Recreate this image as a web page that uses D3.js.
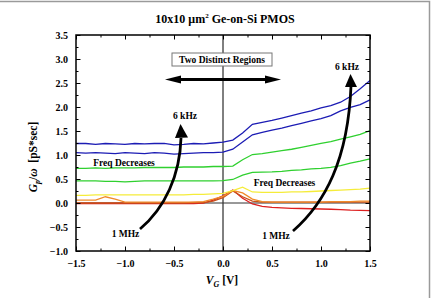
<!DOCTYPE html>
<html><head><meta charset="utf-8">
<script src="https://cdn.jsdelivr.net/npm/d3@7"></script>
<style>body{margin:0;background:#fff}svg{display:block}</style>
</head><body><svg id="c" width="431" height="298"></svg>
<script>
const vg = [-1.5,-1.4,-1.3,-1.2,-1.1,-1.0,-0.9,-0.8,-0.7,-0.6,-0.5,-0.4,-0.3,-0.2,-0.1,0.0,0.1,0.2,0.3,0.4,0.5,0.6,0.7,0.8,0.9,1.0,1.1,1.2,1.3,1.4,1.5];
const blue1  = [1.24,1.24,1.22,1.24,1.23,1.22,1.24,1.23,1.24,1.24,1.21,1.22,1.24,1.23,1.25,1.27,1.31,1.46,1.64,1.68,1.72,1.77,1.82,1.87,1.92,1.98,2.03,2.10,2.22,2.38,2.55];
const blue2  = [1.05,1.04,1.05,1.04,1.03,1.05,1.04,1.03,1.05,1.04,1.02,1.03,1.04,1.05,1.05,1.06,1.12,1.27,1.42,1.47,1.52,1.56,1.61,1.66,1.71,1.76,1.82,1.92,1.99,2.05,2.15];
const green1 = [0.72,0.72,0.73,0.72,0.73,0.73,0.73,0.74,0.74,0.74,0.74,0.75,0.75,0.75,0.76,0.76,0.77,0.90,1.01,1.03,1.06,1.09,1.12,1.16,1.20,1.24,1.28,1.33,1.38,1.43,1.51];
const green2 = [0.46,0.46,0.46,0.45,0.45,0.44,0.45,0.46,0.46,0.46,0.46,0.46,0.46,0.46,0.46,0.465,0.49,0.58,0.64,0.645,0.65,0.66,0.68,0.69,0.71,0.72,0.74,0.78,0.83,0.87,0.92];
const yellow = [0.16,0.16,0.17,0.17,0.17,0.17,0.17,0.17,0.17,0.17,0.17,0.17,0.18,0.18,0.19,0.20,0.26,0.33,0.23,0.22,0.22,0.22,0.23,0.23,0.24,0.25,0.26,0.27,0.28,0.29,0.31];
const orange = [0.06,0.06,0.06,0.13,0.08,0.02,0.02,0.02,0.02,0.02,0.02,0.02,0.02,0.03,0.08,0.14,0.26,0.21,0.08,0.03,0.02,0.02,0.02,0.02,0.02,0.02,0.03,0.03,0.03,0.04,0.04];
const brown  = [0.0,0.0,0.0,0.0,0.0,0.0,0.0,0.0,0.0,0.0,0.0,0.0,0.01,0.01,0.04,0.11,0.25,0.13,0.04,0.02,0.02,0.02,0.02,0.02,0.02,0.02,0.02,0.02,0.02,0.02,0.02];
const red    = [-0.01,-0.01,-0.01,-0.01,-0.01,-0.01,-0.01,-0.01,-0.01,-0.01,-0.01,-0.01,-0.01,0.0,0.06,0.15,0.27,0.10,-0.02,-0.07,-0.09,-0.10,-0.11,-0.115,-0.12,-0.125,-0.13,-0.14,-0.15,-0.155,-0.16];
const seriesList = [
  {v:red, c:"#dd1f1f"},{v:brown, c:"#c8501a"},{v:orange, c:"#f08a2a"},{v:yellow, c:"#f5ec3a"},
  {v:green2, c:"#2fd02f"},{v:green1, c:"#2fd02f"},{v:blue2, c:"#1c1cb4"},{v:blue1, c:"#1c1cb4"}
];
const xMajor = [-1.5,-1.0,-0.5,0.0,0.5,1.0,1.5];
const xMinor = [-1.25,-0.75,-0.25,0.25,0.75,1.25];
const yMajor = [-1.0,-0.5,0.0,0.5,1.0,1.5,2.0,2.5,3.0,3.5];
const yMinor = [-0.75,-0.25,0.25,0.75,1.25,1.75,2.25,2.75,3.25];

const FONT = '"Liberation Serif", "Times New Roman", "DejaVu Serif", serif';
const svg = d3.select("#c");
const L=76,R=370,T=35,B=251;
const x = d3.scaleLinear().domain([-1.5,1.5]).range([L,R]);
const y = d3.scaleLinear().domain([-1,3.5]).range([B,T]);

svg.append("path").attr("d","M0,1.5H429.5V298").attr("fill","none").attr("stroke","#9a9a9a").attr("stroke-width",1.5);

svg.append("line").attr("x1",x(0)).attr("x2",x(0)).attr("y1",T).attr("y2",B).attr("stroke","#000").attr("stroke-width",1);
svg.append("line").attr("x1",L).attr("x2",R).attr("y1",y(0)).attr("y2",y(0)).attr("stroke","#333").attr("stroke-width",1);

const line = d3.line().x((d,i)=>x(vg[i])).y(d=>y(d));
seriesList.forEach(s=>{
  svg.append("path").attr("d",line(s.v)).attr("fill","none").attr("stroke",s.c).attr("stroke-width",1.3);
});

const fmt = d3.format(".1f");
function styleAxis(g){g.attr("font-family",null).attr("font-size",null);g.select(".domain").remove();g.selectAll("line").attr("stroke","#000").attr("stroke-width",1);g.selectAll("text").style("font-size","10px").style("font-family",FONT).style("font-weight","bold").attr("fill","#000");}
svg.append("g").attr("transform",`translate(0,${B})`).call(d3.axisBottom(x).tickValues(xMajor).tickSize(-4.5).tickPadding(9).tickFormat(fmt)).call(styleAxis);
svg.append("g").attr("transform",`translate(0,${B})`).call(d3.axisBottom(x).tickValues(xMinor).tickSize(-2.5).tickFormat("")).call(styleAxis);
svg.append("g").attr("transform",`translate(0,${T})`).call(d3.axisTop(x).tickValues(xMajor).tickSize(-4.5).tickFormat("")).call(styleAxis);
svg.append("g").attr("transform",`translate(0,${T})`).call(d3.axisTop(x).tickValues(xMinor).tickSize(-2.5).tickFormat("")).call(styleAxis);
svg.append("g").attr("transform",`translate(${L},0)`).call(d3.axisLeft(y).tickValues(yMajor).tickSize(-4.5).tickPadding(8).tickFormat(fmt)).call(styleAxis);
svg.append("g").attr("transform",`translate(${L},0)`).call(d3.axisLeft(y).tickValues(yMinor).tickSize(-2.5).tickFormat("")).call(styleAxis);
svg.append("g").attr("transform",`translate(${R},0)`).call(d3.axisRight(y).tickValues(yMajor).tickSize(-4.5).tickFormat("")).call(styleAxis);
svg.append("g").attr("transform",`translate(${R},0)`).call(d3.axisRight(y).tickValues(yMinor).tickSize(-2.5).tickFormat("")).call(styleAxis);
svg.append("rect").attr("x",L).attr("y",T).attr("width",R-L).attr("height",B-T).attr("fill","none").attr("stroke","#000").attr("stroke-width",1.5);

function txt(xp,yp,size){return svg.append("text").attr("x",xp).attr("y",yp).attr("text-anchor","middle").style("font-family",FONT).style("font-weight","bold").style("font-size",size+"px").attr("fill","#000");}

const title = txt(225,23,12);
title.append("tspan").text("10x10 μm");
title.append("tspan").text("2").style("font-size","7px").attr("dy",-5);
title.append("tspan").text(" Ge-on-Si PMOS").attr("dy",5);

const xl = txt(222,284,11.5);
xl.append("tspan").text("V").style("font-style","italic");
xl.append("tspan").text("G").style("font-style","italic").style("font-size","8px").attr("dy",3);
xl.append("tspan").text(" [V]").attr("dy",-3);
const yl = txt(0,0,11.5).attr("transform","translate(37,157) rotate(-90)");
yl.append("tspan").text("G").style("font-style","italic");
yl.append("tspan").text("p").style("font-style","italic").style("font-size","8px").attr("dy",3);
yl.append("tspan").text("/").attr("dy",-3);
yl.append("tspan").text("ω").style("font-style","italic");
yl.append("tspan").text("\u00a0\u00a0[pS*sec]");

svg.append("rect").attr("x",172).attr("y",53).attr("width",100).attr("height",13).attr("fill","#fff").attr("stroke","#777").attr("stroke-width",1);
txt(222,63,9.5).text("Two Distinct Regions");

svg.append("line").attr("x1",176).attr("x2",270).attr("y1",79.5).attr("y2",79.5).attr("stroke","#000").attr("stroke-width",3);
svg.append("path").attr("d","M165,79.5L181,75.5L181,83.5Z M281,79.5L265,75.5L265,83.5Z").attr("fill","#000");

svg.append("path").attr("d","M140,229C165,208 180,175 181,138").attr("fill","none").attr("stroke","#000").attr("stroke-width",2.8);
svg.append("path").attr("d","M180.5,124L175,138L188,137.5Z").attr("fill","#000");
svg.append("path").attr("d","M293,231C325,203 348,160 351,86").attr("fill","none").attr("stroke","#000").attr("stroke-width",2.8);
svg.append("path").attr("d","M350.5,74L345,87L357,87Z").attr("fill","#000");

const ann = [["6 kHz",185,119],["6 kHz",347,70],["1 MHz",125.5,237],["1 MHz",276,239],["Freq Decreases",124,166],["Freq Decreases",284.5,185.5]];
ann.forEach(a=>txt(a[1],a[2],9.5).text(a[0]));
</script></body></html>
